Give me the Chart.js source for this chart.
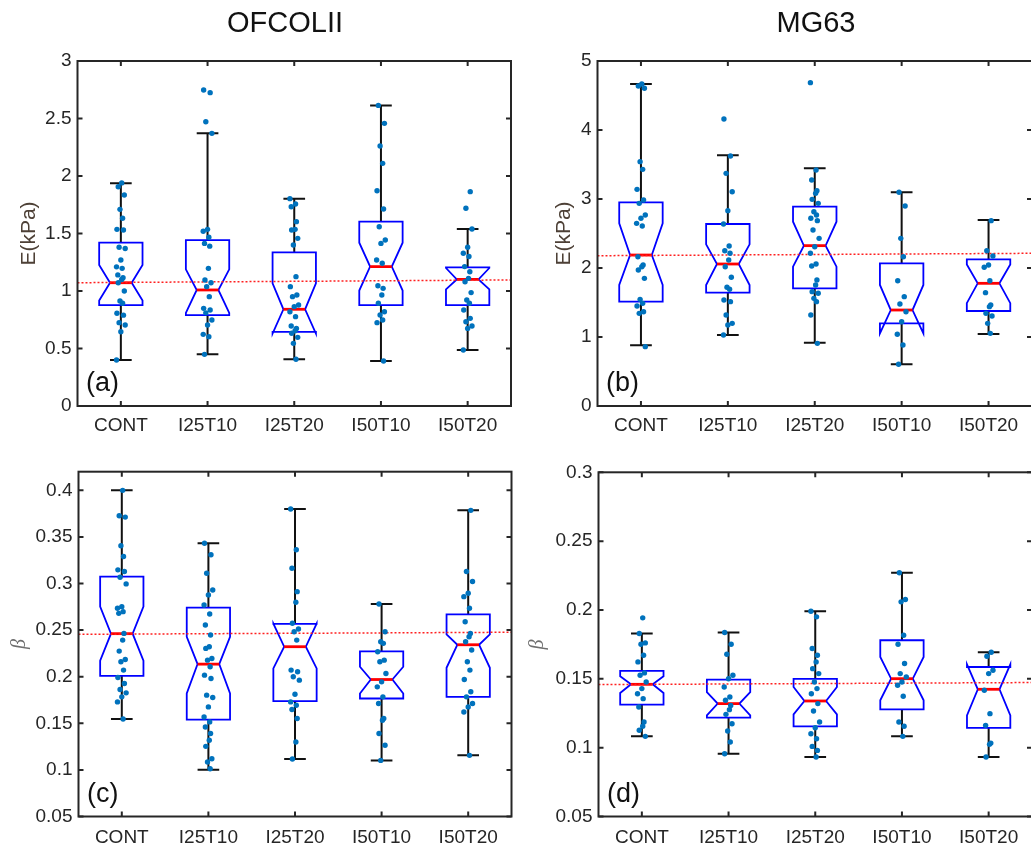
<!DOCTYPE html>
<html lang="en">
<head>
<meta charset="UTF-8">
<title>Notched box plots</title>
<style>
    html, body { margin: 0; padding: 0; background: #fff; }
    #wrap { position: relative; width: 1031px; height: 848px; overflow: hidden; }
    canvas { position: absolute; }
</style>
</head>
<body>
<div id="wrap">
    <canvas id="pa" width="520" height="440" style="left:0;top:0"></canvas>
    <canvas id="pb" width="530" height="440" style="left:520px;top:0"></canvas>
    <canvas id="pc" width="520" height="408" style="left:0;top:440px"></canvas>
    <canvas id="pd" width="530" height="408" style="left:520px;top:440px"></canvas>
</div>

<script src="https://cdn.jsdelivr.net/npm/chart.js@4.4.1/dist/chart.umd.min.js"></script>
<script>
const groups = ['CONT', 'I25T10', 'I25T20', 'I50T10', 'I50T20'];

// (a) OFCOLII, E(kPa)
const aTicks = [0, 0.5, 1, 1.5, 2, 2.5, 3];
const aWlo = [0.40, 0.449, 0.406, 0.391, 0.487];
const aQ1 = [0.878, 0.791, 0.645, 0.878, 0.878];
const aNlo = [0.918, 0.81, 0.63, 1.004, 1.014];
const aMed = [1.072, 1.009, 0.841, 1.212, 1.101];
const aNhi = [1.226, 1.188, 1.067, 1.42, 1.2];
const aQ3 = [1.42, 1.443, 1.336, 1.603, 1.206];
const aWhi = [1.936, 2.371, 1.803, 2.614, 1.539];
const aRef = [1.072, 1.096];
const aPts = [
    [1.94, 1.907, 1.835, 1.71, 1.632, 1.536, 1.53, 1.38, 1.37, 1.27, 1.21, 1.197, 1.14, 1.116, 1.10, 1.072, 1.0, 0.913, 0.893, 0.806, 0.79, 0.725, 0.704, 0.646, 0.40],
    [2.748, 2.725, 2.472, 2.371, 1.536, 1.52, 1.467, 1.414, 1.39, 1.197, 1.096, 1.072, 1.038, 0.951, 0.849, 0.835, 0.81, 0.748, 0.704, 0.623, 0.603, 0.449],
    [1.803, 1.757, 1.733, 1.603, 1.536, 1.53, 1.458, 1.40, 1.125, 1.038, 0.965, 0.951, 0.878, 0.864, 0.82, 0.777, 0.696, 0.675, 0.655, 0.632, 0.597, 0.545, 0.406],
    [2.614, 2.458, 2.261, 2.11, 1.872, 1.713, 1.559, 1.443, 1.414, 1.27, 1.241, 1.046, 1.023, 0.965, 0.893, 0.82, 0.791, 0.748, 0.725, 0.391],
    [1.864, 1.719, 1.539, 1.38, 1.328, 1.30, 1.212, 1.168, 1.11, 1.081, 0.986, 0.922, 0.893, 0.835, 0.762, 0.733, 0.696, 0.675, 0.487]
];

// (b) MG63, E(kPa)
const bTicks = [0, 1, 2, 3, 4, 5];
const bWlo = [0.879, 1.029, 0.918, 0.604, 1.043];
const bQ1 = [1.512, 1.643, 1.705, 1.198, 1.377];
const bNlo = [1.754, 1.754, 2.019, 1.053, 1.49];
const bMed = [2.188, 2.058, 2.324, 1.391, 1.778];
const bNhi = [2.647, 2.343, 2.671, 1.754, 2.05];
const bQ3 = [2.952, 2.638, 2.889, 2.068, 2.126];
const bWhi = [4.667, 3.633, 3.444, 3.097, 2.696];
const bRef = [2.178, 2.213];
const bPts = [
    [4.667, 4.638, 4.604, 3.541, 3.43, 3.14, 2.986, 2.937, 2.768, 2.72, 2.647, 2.609, 2.164, 2.043, 2.019, 1.971, 1.85, 1.546, 1.488, 1.449, 1.367, 1.343, 0.86],
    [4.159, 3.623, 3.372, 3.106, 2.831, 2.638, 2.319, 2.251, 2.213, 2.116, 2.019, 1.865, 1.72, 1.691, 1.536, 1.512, 1.319, 1.198, 1.174, 1.029],
    [4.686, 3.42, 3.275, 3.121, 3.082, 2.995, 2.937, 2.816, 2.768, 2.72, 2.686, 2.551, 2.43, 2.309, 2.213, 2.058, 2.029, 1.826, 1.754, 1.657, 1.633, 1.56, 1.512, 1.319, 0.908],
    [3.097, 2.899, 2.43, 2.164, 1.816, 1.585, 1.478, 1.367, 1.222, 1.039, 0.884, 0.604],
    [2.686, 2.251, 2.174, 2.043, 2.01, 1.816, 1.643, 1.464, 1.44, 1.343, 1.304, 1.198, 1.053]
];

// (c) OFCOLII, beta
const cTicks = [0.05, 0.1, 0.15, 0.2, 0.25, 0.3, 0.35, 0.4];
const cWlo = [0.1547, 0.1002, 0.1117, 0.1102, 0.1156];
const cQ1 = [0.201, 0.154, 0.1737, 0.1766, 0.1784];
const cNlo = [0.2171, 0.182, 0.2089, 0.182, 0.2096];
const cMed = [0.2462, 0.2135, 0.2322, 0.197, 0.2343];
const cNhi = [0.2752, 0.2429, 0.257, 0.2107, 0.2454];
const cQ3 = [0.3075, 0.2741, 0.2566, 0.2271, 0.267];
const cWhi = [0.40, 0.3433, 0.3799, 0.2781, 0.3785];
const cRef = [0.2455, 0.2477];
const cPts = [
    [0.40, 0.3727, 0.3713, 0.3405, 0.329, 0.3147, 0.3129, 0.3068, 0.2996, 0.2752, 0.2734, 0.2698, 0.268, 0.2465, 0.2393, 0.2275, 0.2185, 0.216, 0.2071, 0.1992, 0.1927, 0.1863, 0.1827, 0.1784, 0.173, 0.1547],
    [0.3433, 0.3308, 0.3111, 0.2931, 0.2878, 0.277, 0.2673, 0.2555, 0.2447, 0.2322, 0.2304, 0.2196, 0.2178, 0.2107, 0.2017, 0.1981, 0.1802, 0.1777, 0.1676, 0.1569, 0.1515, 0.1461, 0.139, 0.1318, 0.1253, 0.112, 0.1085, 0.1013],
    [0.3799, 0.3362, 0.3164, 0.2913, 0.2799, 0.2573, 0.2512, 0.2483, 0.2393, 0.2071, 0.2053, 0.1999, 0.1963, 0.1812, 0.173, 0.1694, 0.1648, 0.1551, 0.13, 0.1117],
    [0.2781, 0.2483, 0.2375, 0.2358, 0.2268, 0.2178, 0.216, 0.2035, 0.1945, 0.1891, 0.1784, 0.1712, 0.1551, 0.1533, 0.139, 0.1264, 0.1102],
    [0.3785, 0.3129, 0.3021, 0.2895, 0.2859, 0.2734, 0.259, 0.2465, 0.2429, 0.2375, 0.2286, 0.216, 0.2071, 0.197, 0.1838, 0.1784, 0.1712, 0.1676, 0.1622, 0.1156]
];

// (d) MG63, beta
const dTicks = [0.05, 0.1, 0.15, 0.2, 0.25, 0.3];
const dWlo = [0.1082, 0.0956, 0.0932, 0.1082, 0.0932];
const dQ1 = [0.1312, 0.1218, 0.1155, 0.1278, 0.1143];
const dNlo = [0.1397, 0.1235, 0.1242, 0.1344, 0.1235];
const dMed = [0.146, 0.132, 0.1339, 0.1501, 0.1424];
const dNhi = [0.1518, 0.1404, 0.1441, 0.1659, 0.1605];
const dQ3 = [0.1557, 0.1494, 0.1499, 0.178, 0.1586];
const dWhi = [0.1829, 0.1836, 0.1991, 0.227, 0.1693];
const dRef = [0.1458, 0.1473];
const dPts = [
    [0.1943, 0.1829, 0.1761, 0.1751, 0.1671, 0.1623, 0.1543, 0.1526, 0.1477, 0.1429, 0.1392, 0.1356, 0.1295, 0.1186, 0.1155, 0.1126, 0.1082],
    [0.1836, 0.1751, 0.1678, 0.1526, 0.1501, 0.1441, 0.1368, 0.1344, 0.1307, 0.1276, 0.1242, 0.1174, 0.1121, 0.1041, 0.0956],
    [0.1991, 0.195, 0.172, 0.1671, 0.1623, 0.1574, 0.1538, 0.1477, 0.1429, 0.1392, 0.132, 0.1266, 0.1186, 0.1145, 0.1101, 0.1065, 0.1009, 0.098, 0.0932],
    [0.227, 0.2076, 0.2059, 0.1817, 0.1751, 0.1611, 0.1538, 0.1514, 0.1477, 0.1453, 0.1373, 0.1186, 0.1155, 0.1082],
    [0.1693, 0.1664, 0.1562, 0.1538, 0.1417, 0.1247, 0.1162, 0.1033, 0.1024, 0.0932]
];

// horizontal spread of the dots around each group
const jitter = [0.01, -0.03, 0.04, -0.01, 0.02, -0.045, 0.03, -0.02, 0.05, 0, -0.05, 0.015, -0.035, 0.025];

const FONT = '"Liberation Sans", Arial, Helvetica, sans-serif';
const INK = '#262626';
const BOX_HW = 0.25;

function boxes(s) {
    return {
        id: 'boxes',
        beforeDatasetsDraw(chart) {
            const { ctx, scales: { x, y } } = chart;
            const X = v => x.getPixelForValue(v);
            const Y = v => y.getPixelForValue(v);
            ctx.save();
            for (let i = 0; i < s.med.length; i++) {
                const c = i + 1;
                // whiskers
                ctx.strokeStyle = '#111';
                ctx.lineWidth = 2;
                ctx.beginPath();
                ctx.moveTo(X(c), Y(s.q3[i])); ctx.lineTo(X(c), Y(s.whi[i]));
                ctx.moveTo(X(c), Y(s.q1[i])); ctx.lineTo(X(c), Y(s.wlo[i]));
                ctx.moveTo(X(c - BOX_HW / 2), Y(s.whi[i])); ctx.lineTo(X(c + BOX_HW / 2), Y(s.whi[i]));
                ctx.moveTo(X(c - BOX_HW / 2), Y(s.wlo[i])); ctx.lineTo(X(c + BOX_HW / 2), Y(s.wlo[i]));
                ctx.stroke();
                // notched box
                ctx.strokeStyle = '#0000ff';
                ctx.lineWidth = 1.8;
                ctx.beginPath();
                ctx.moveTo(X(c - BOX_HW), Y(s.q1[i]));
                ctx.lineTo(X(c - BOX_HW), Y(s.nlo[i]));
                ctx.lineTo(X(c - BOX_HW / 2), Y(s.med[i]));
                ctx.lineTo(X(c - BOX_HW), Y(s.nhi[i]));
                ctx.lineTo(X(c - BOX_HW), Y(s.q3[i]));
                ctx.lineTo(X(c + BOX_HW), Y(s.q3[i]));
                ctx.lineTo(X(c + BOX_HW), Y(s.nhi[i]));
                ctx.lineTo(X(c + BOX_HW / 2), Y(s.med[i]));
                ctx.lineTo(X(c + BOX_HW), Y(s.nlo[i]));
                ctx.lineTo(X(c + BOX_HW), Y(s.q1[i]));
                ctx.closePath();
                ctx.stroke();
                // median
                ctx.strokeStyle = '#ff0000';
                ctx.lineWidth = 2.8;
                ctx.beginPath();
                ctx.moveTo(X(c - BOX_HW / 2), Y(s.med[i]));
                ctx.lineTo(X(c + BOX_HW / 2), Y(s.med[i]));
                ctx.stroke();
            }
            ctx.restore();
        }
    };
}

function frame(o) {
    return {
        id: 'frame',
        afterDraw(chart) {
            const { ctx, chartArea: a, scales: { x, y } } = chart;
            ctx.save();
            ctx.strokeStyle = INK;
            ctx.lineWidth = 2;
            ctx.strokeRect(a.left, a.top, a.right - a.left, a.bottom - a.top);
            ctx.beginPath();
            x.ticks.forEach(t => {
                const px = x.getPixelForValue(t.value);
                ctx.moveTo(px, a.bottom); ctx.lineTo(px, a.bottom - 5);
                ctx.moveTo(px, a.top); ctx.lineTo(px, a.top + 5);
            });
            y.ticks.forEach(t => {
                const py = y.getPixelForValue(t.value);
                ctx.moveTo(a.left, py); ctx.lineTo(a.left + 5, py);
                ctx.moveTo(a.right, py); ctx.lineTo(a.right - 5, py);
            });
            ctx.stroke();
            ctx.fillStyle = '#111';
            ctx.font = '27px ' + FONT;
            ctx.textAlign = 'left';
            ctx.textBaseline = 'alphabetic';
            ctx.fillText(o.letter, a.left + 8.5, a.bottom - 15);
            if (o.title) {
                ctx.font = '29px ' + FONT;
                ctx.textAlign = 'center';
                ctx.fillText(o.title, o.titleX, 32);
            }
            ctx.restore();
        }
    };
}

function panel(id, o) {
    const pts = [];
    o.pts.forEach((g, i) => g.forEach((v, k) => {
        pts.push({ x: i + 1 + jitter[(k + i * 5) % jitter.length], y: v });
    }));
    return new Chart(document.getElementById(id), {
        type: 'scatter',
        data: {
            datasets: [{
                data: pts,
                pointRadius: 2.7,
                pointBackgroundColor: '#0072BD',
                pointBorderWidth: 0
            }, {
                data: [{ x: 0.5, y: o.ref[0] }, { x: 5.5, y: o.ref[1] }],
                showLine: true,
                borderColor: '#ff2020',
                borderWidth: 1.5,
                borderDash: [2, 2],
                pointRadius: 0
            }]
        },
        options: {
            responsive: false,
            animation: false,
            layout: { padding: o.pad },
            plugins: { legend: { display: false }, tooltip: { enabled: false } },
            scales: {
                x: {
                    type: 'linear', min: 0.5, max: 5.5,
                    grid: { display: false, drawTicks: false },
                    border: { display: false },
                    afterBuildTicks: s => { s.ticks = groups.map((g, i) => ({ value: i + 1 })); },
                    afterFit: s => { s.height = o.xh; },
                    ticks: {
                        callback: v => groups[v - 1],
                        font: { family: FONT, size: 19 },
                        color: INK, padding: o.xpad, maxRotation: 0, autoSkip: false
                    }
                },
                y: {
                    type: 'linear', min: o.min, max: o.max,
                    grid: { display: false, drawTicks: false },
                    border: { display: false },
                    afterBuildTicks: s => { s.ticks = o.ticks.map(v => ({ value: v })); },
                    afterFit: s => { s.width = o.yw; },
                    ticks: {
                        callback: v => String(+v.toFixed(2)),
                        font: { family: FONT, size: 19 },
                        color: INK, padding: 6
                    },
                    title: {
                        display: true, text: o.ylabel, color: o.ycolor,
                        font: o.yfont, padding: { top: o.ytp, bottom: 0 }
                    }
                }
            }
        },
        plugins: [boxes(o.stats), frame(o)]
    });
}

const eFont = { family: FONT, size: 21 };
const bFont = { family: '"Liberation Serif", "DejaVu Serif", serif', size: 20, style: 'italic' };

panel('pa', {
    title: 'OFCOLII', titleX: 285, letter: '(a)',
    min: 0, max: 3, ticks: aTicks, ref: aRef, pts: aPts,
    stats: { wlo: aWlo, q1: aQ1, nlo: aNlo, med: aMed, nhi: aNhi, q3: aQ3, whi: aWhi },
    ylabel: 'E(kPa)', yfont: eFont, ycolor: '#4d4036', ytp: 17,
    pad: { left: 0, top: 61, right: 9, bottom: 0 }, yw: 77.5, xh: 34, xpad: 8
});
panel('pb', {
    title: 'MG63', titleX: 296, letter: '(b)',
    min: 0, max: 5, ticks: bTicks, ref: bRef, pts: bPts,
    stats: { wlo: bWlo, q1: bQ1, nlo: bNlo, med: bMed, nhi: bNhi, q3: bQ3, whi: bWhi },
    ylabel: 'E(kPa)', yfont: eFont, ycolor: '#4d4036', ytp: 32,
    pad: { left: 0, top: 61, right: 18, bottom: 0 }, yw: 77.5, xh: 34, xpad: 8
});
panel('pc', {
    letter: '(c)',
    min: 0.05, max: 0.42, ticks: cTicks, ref: cRef, pts: cPts,
    stats: { wlo: cWlo, q1: cQ1, nlo: cNlo, med: cMed, nhi: cNhi, q3: cQ3, whi: cWhi },
    ylabel: 'β', yfont: bFont, ycolor: '#6e6e6e', ytp: 8,
    pad: { left: 0, top: 31.7, right: 8.5, bottom: 0 }, yw: 78.5, xh: 31.5, xpad: 10
});
panel('pd', {
    letter: '(d)',
    min: 0.05, max: 0.3, ticks: dTicks, ref: dRef, pts: dPts,
    stats: { wlo: dWlo, q1: dQ1, nlo: dNlo, med: dMed, nhi: dNhi, q3: dQ3, whi: dWhi },
    ylabel: 'β', yfont: bFont, ycolor: '#6e6e6e', ytp: 6,
    pad: { left: 0, top: 32.3, right: 18, bottom: 0 }, yw: 78.5, xh: 31.5, xpad: 10
});
</script>
</body>
</html>
